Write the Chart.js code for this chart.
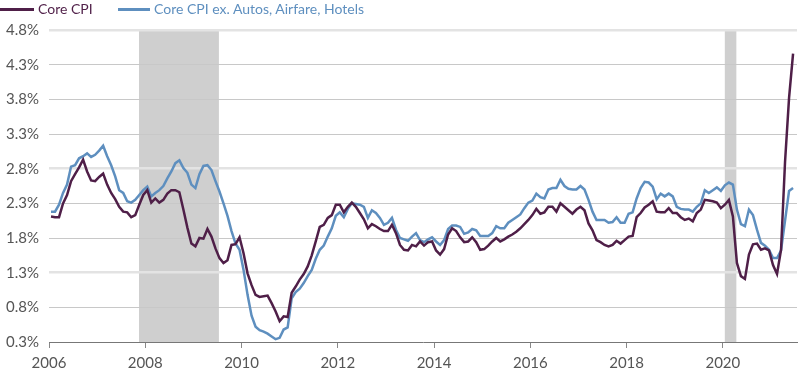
<!DOCTYPE html>
<html>
<head>
<meta charset="utf-8">
<script src="https://cdn.jsdelivr.net/npm/chart.js@4.4.1/dist/chart.umd.min.js"></script>
<style>
  html, body { margin: 0; padding: 0; background: #fff; }
  #wrap { position: relative; width: 800px; height: 375px; }
  #legend { position: absolute; left: 0; top: 0; height: 18px; display: flex; font: 14px Lato, sans-serif; line-height: 18px; }
  #legend .item { display: flex; align-items: center; }
  #legend .item:first-child { width: 118px; }
  #legend .swatch { display: inline-block; height: 3px; margin-right: 4px; }
</style>
</head>
<body>
<div id="wrap">
  <div id="legend">
    <span class="item"><span class="swatch" style="width:34px;background:#4f1f48"></span><span style="color:#4f1f48">Core CPI</span></span>
    <span class="item"><span class="swatch" style="width:32px;background:#5e8fbf"></span><span style="color:#5e8fbf">Core CPI ex. Autos, Airfare, Hotels</span></span>
  </div>
  <canvas id="cpiChart" width="800" height="375"></canvas>
</div>
<script>
// monthly year-over-year values, Jan 2006 - Jun 2021
const startYear = 2006;

const coreCpi = [
  2.11, 2.10, 2.10, 2.30, 2.42, 2.62, 2.72, 2.82, 2.93, 2.76, 2.63, 2.62, // 2006
  2.68, 2.73, 2.57, 2.45, 2.36, 2.25, 2.18, 2.17, 2.10, 2.13, 2.28, 2.42, // 2007
  2.49, 2.31, 2.37, 2.31, 2.35, 2.44, 2.49, 2.49, 2.46, 2.21, 1.95, 1.72, // 2008
  1.68, 1.80, 1.79, 1.93, 1.82, 1.65, 1.51, 1.44, 1.48, 1.70, 1.71, 1.81, // 2009
  1.58, 1.29, 1.12, 0.98, 0.95, 0.96, 0.97, 0.86, 0.74, 0.60, 0.67, 0.66, // 2010
  1.01, 1.10, 1.20, 1.28, 1.39, 1.55, 1.75, 1.96, 1.99, 2.09, 2.13, 2.28, // 2011
  2.28, 2.17, 2.25, 2.31, 2.25, 2.16, 2.07, 1.94, 2.00, 1.97, 1.93, 1.90, // 2012
  1.90, 1.99, 1.87, 1.70, 1.63, 1.62, 1.70, 1.68, 1.75, 1.69, 1.74, 1.75, // 2013
  1.62, 1.56, 1.64, 1.85, 1.94, 1.90, 1.81, 1.74, 1.75, 1.81, 1.74, 1.63, // 2014
  1.64, 1.69, 1.75, 1.80, 1.75, 1.78, 1.82, 1.85, 1.89, 1.94, 2.00, 2.06, // 2015
  2.13, 2.22, 2.15, 2.17, 2.25, 2.25, 2.18, 2.30, 2.25, 2.20, 2.15, 2.21, // 2016
  2.25, 2.20, 2.01, 1.91, 1.77, 1.74, 1.70, 1.68, 1.70, 1.76, 1.72, 1.77, // 2017
  1.82, 1.83, 2.10, 2.16, 2.24, 2.28, 2.33, 2.18, 2.17, 2.17, 2.23, 2.16, // 2018
  2.16, 2.10, 2.06, 2.08, 2.04, 2.16, 2.21, 2.35, 2.34, 2.33, 2.31, 2.23, // 2019
  2.28, 2.35, 2.11, 1.44, 1.25, 1.21, 1.56, 1.71, 1.72, 1.63, 1.65, 1.62, // 2020
  1.41, 1.28, 1.63, 2.90, 3.82, 4.46                                      // 2021
];

const coreCpiEx = [
  2.18, 2.18, 2.28, 2.45, 2.57, 2.83, 2.85, 2.95, 2.98, 3.02, 2.97, 3.00, // 2006
  3.06, 3.13, 2.98, 2.85, 2.69, 2.49, 2.45, 2.33, 2.31, 2.35, 2.42, 2.49, // 2007
  2.54, 2.40, 2.45, 2.49, 2.55, 2.66, 2.76, 2.88, 2.92, 2.81, 2.74, 2.57, // 2008
  2.52, 2.72, 2.84, 2.85, 2.78, 2.62, 2.47, 2.30, 2.12, 1.90, 1.72, 1.63, // 2009
  1.34, 0.98, 0.68, 0.52, 0.47, 0.45, 0.42, 0.38, 0.34, 0.36, 0.48, 0.51, // 2010
  0.93, 1.02, 1.07, 1.15, 1.25, 1.34, 1.50, 1.63, 1.69, 1.82, 1.94, 2.12, // 2011
  2.17, 2.10, 2.22, 2.30, 2.29, 2.28, 2.25, 2.09, 2.20, 2.16, 2.09, 1.99, // 2012
  2.02, 2.09, 1.92, 1.80, 1.78, 1.76, 1.82, 1.87, 1.77, 1.74, 1.78, 1.81, // 2013
  1.75, 1.70, 1.77, 1.93, 1.98, 1.98, 1.96, 1.86, 1.88, 1.93, 1.91, 1.83, // 2014
  1.83, 1.83, 1.87, 1.97, 1.94, 1.94, 2.02, 2.06, 2.10, 2.14, 2.23, 2.31, // 2015
  2.34, 2.44, 2.39, 2.37, 2.50, 2.52, 2.52, 2.64, 2.55, 2.51, 2.50, 2.50, // 2016
  2.55, 2.50, 2.35, 2.18, 2.06, 2.06, 2.06, 2.02, 2.03, 2.10, 2.02, 2.02, // 2017
  2.15, 2.17, 2.37, 2.52, 2.61, 2.60, 2.54, 2.36, 2.44, 2.40, 2.44, 2.40, // 2018
  2.25, 2.22, 2.21, 2.21, 2.18, 2.25, 2.30, 2.49, 2.45, 2.49, 2.53, 2.48, // 2019
  2.56, 2.60, 2.57, 2.21, 2.00, 1.97, 2.21, 2.13, 1.92, 1.73, 1.69, 1.63, // 2020
  1.51, 1.51, 1.62, 2.05, 2.48, 2.52                                      // 2021
];

const yearTicks = [2006, 2008, 2010, 2012, 2014, 2016, 2018, 2020];
const pctTicks = [0.3, 0.8, 1.3, 1.8, 2.3, 2.8, 3.3, 3.8, 4.3, 4.8];
const boldGrid = [4.8, 2.8, 1.3];
// recession periods (decimal years)
const recessions = [[2007.87, 2009.53], [2020.04, 2020.28]];

// mid-month x positions
const toPoints = arr => arr.map((v, i) => ({ x: startYear + (i + 0.5) / 12, y: v }));

// grey recession bands, drawn under the grid
const recessionShading = {
  id: 'recessionShading',
  beforeDraw(chart) {
    const { ctx, chartArea, scales: { x } } = chart;
    ctx.save();
    ctx.fillStyle = '#cfcfcf';
    recessions.forEach(([a, b]) => {
      const x0 = x.getPixelForValue(a);
      const x1 = x.getPixelForValue(b);
      ctx.fillRect(x0, chartArea.top, x1 - x0, chartArea.bottom - chartArea.top);
    });
    ctx.restore();
  }
};

const labelFont = { family: 'Lato, sans-serif', size: 15 };

new Chart(document.getElementById('cpiChart'), {
  type: 'line',
  data: {
    datasets: [{
      label: 'Core CPI',
      data: toPoints(coreCpi),
      borderColor: '#4f1f48',
      borderWidth: 2.5,
      pointRadius: 0,
      tension: 0
    }, {
      label: 'Core CPI ex. Autos, Airfare, Hotels',
      data: toPoints(coreCpiEx),
      borderColor: '#5e8fbf',
      borderWidth: 2.5,
      pointRadius: 0,
      tension: 0
    }]
  },
  options: {
    responsive: false,
    animation: false,
    devicePixelRatio: 1,
    layout: { padding: { top: 30, right: 3, left: 0, bottom: 0 } },
    plugins: {
      legend: { display: false },
      tooltip: { enabled: false }
    },
    scales: {
      x: {
        type: 'linear',
        min: 2006,
        max: 2021.54,
        afterBuildTicks: s => { s.ticks = yearTicks.map(v => ({ value: v })); },
        afterFit: s => { s.height = 33; },
        ticks: {
          autoSkip: false,
          maxRotation: 0,
          padding: 6,
          color: '#555',
          font: labelFont,
          callback: v => String(v)
        },
        grid: { drawOnChartArea: false, drawTicks: true, tickLength: 6, color: '#888' },
        border: { display: true, color: '#777', width: 1 }
      },
      y: {
        min: 0.3,
        max: 4.8,
        afterBuildTicks: s => { s.ticks = pctTicks.map(v => ({ value: v })); },
        afterFit: s => { s.width = 49; },
        ticks: {
          padding: 10,
          color: '#555',
          font: labelFont,
          callback: v => v.toFixed(1) + '%'
        },
        grid: {
          drawTicks: false,
          color: c => {
            const v = Math.round(c.tick.value * 10) / 10;
            if (v === 0.3) return 'rgba(0,0,0,0)';
            return boldGrid.includes(v) ? '#e3e3e3' : '#c8c8c8';
          },
          lineWidth: c => boldGrid.includes(Math.round(c.tick.value * 10) / 10) ? 2.5 : 1
        },
        border: { display: false }
      }
    }
  },
  plugins: [recessionShading]
});
</script>
</body>
</html>
